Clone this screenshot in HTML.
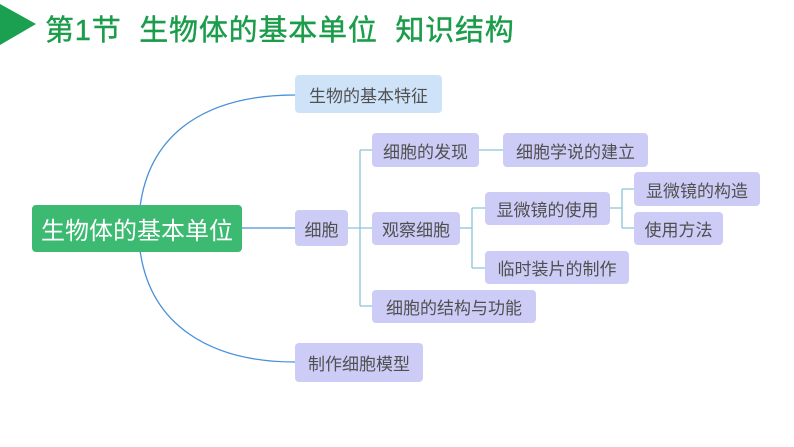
<!DOCTYPE html>
<html><head><meta charset="utf-8"><style>
body{margin:0;width:794px;height:447px;background:#fff;position:relative;overflow:hidden;font-family:"Liberation Sans","Noto Sans CJK SC",sans-serif}
.n{position:absolute;background:#ccccf7;border-radius:4px;color:#505050;font-size:17px;display:flex;align-items:center;justify-content:center;white-space:nowrap}
</style></head><body>
<svg width="794" height="447" style="position:absolute;left:0;top:0">
<polygon points="0,4 36,24 0,45" fill="#1aa050"/>
<g fill="none" stroke-width="1.3">
<path d="M140,207 C150,130 210,95 295,95" stroke="#4a90d9"/>
<path d="M140,250 C150,325 210,362 295,362" stroke="#4a90d9"/>
<path d="M242,228 H295" stroke="#4a90d9"/>
<g stroke="#8cc4d8">
<path d="M348,228 H372"/>
<path d="M360,150 V306"/>
<path d="M360,150 H372 M360,306 H372"/>
<path d="M479,150 H503"/>
<path d="M460,228 H472"/>
<path d="M472,208 V268 M472,208 H485 M472,268 H485"/>
<path d="M610,208 H622 M622,189 V228 M622,189 H634 M622,228 H634"/>
</g></g>
</svg>
<div style="position:absolute;left:45px;top:7px;font-size:29px;color:#1a9c4a;white-space:nowrap;letter-spacing:0.8px;-webkit-text-stroke:0.4px #1a9c4a">第1节&nbsp; 生物体的基本单位&nbsp; 知识结构</div>
<div class="n" style="left:32px;top:205px;width:210px;height:47px;background:#3dba72;color:#fff;font-size:24px">生物体的基本单位</div>
<div class="n" style="left:295px;top:75px;width:147px;height:38px;background:#cfe3f8">生物的基本特征</div>
<div class="n" style="left:295px;top:210px;width:53px;height:36px">细胞</div>
<div class="n" style="left:295px;top:343px;width:128px;height:39px">制作细胞模型</div>
<div class="n" style="left:372px;top:133px;width:107px;height:34px">细胞的发现</div>
<div class="n" style="left:503px;top:133px;width:145px;height:34px">细胞学说的建立</div>
<div class="n" style="left:372px;top:212px;width:88px;height:33px">观察细胞</div>
<div class="n" style="left:485px;top:192px;width:125px;height:33px">显微镜的使用</div>
<div class="n" style="left:634px;top:172px;width:126px;height:34px">显微镜的构造</div>
<div class="n" style="left:634px;top:212px;width:89px;height:33px">使用方法</div>
<div class="n" style="left:485px;top:251px;width:144px;height:33px">临时装片的制作</div>
<div class="n" style="left:372px;top:290px;width:164px;height:33px">细胞的结构与功能</div>
</body></html>
